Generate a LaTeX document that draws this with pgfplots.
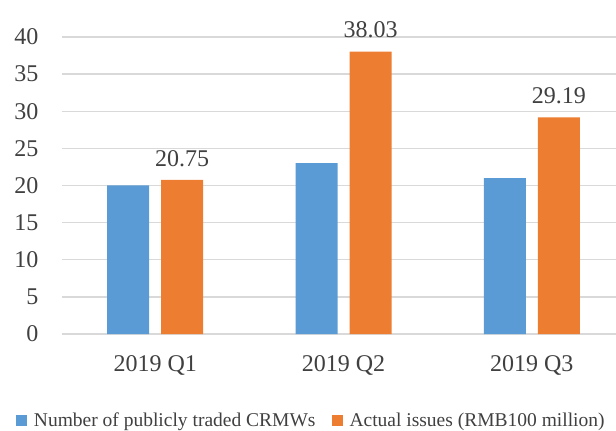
\documentclass[border=0pt]{standalone}
\usepackage{pgfplots}
\pgfplotsset{compat=1.18}
\usepackage{fontspec}
\setmainfont{Liberation Serif}
\definecolor{cblue}{HTML}{5B9BD5}
\definecolor{corange}{HTML}{ED7D31}
\definecolor{txt}{HTML}{404040}
\pgfplotsset{sq legend/.style={legend image code/.code={\path[##1] (0pt,-5.5pt) rectangle (11pt,5.5pt);}}}
\begin{document}
\begin{tikzpicture}
\useasboundingbox (-62pt,-97pt) rectangle (554pt,334pt);
\begin{axis}[
  at={(0pt,0pt)}, anchor=south west,
  scale only axis, width=554pt, height=297pt,
  ybar=12pt, bar width=42pt,
  xmin=-0.495, xmax=2.447, ymin=0, ymax=40,
  xtick={0,1,2}, xticklabels={2019 Q1,2019 Q2,2019 Q3},
  ytick={0,5,10,15,20,25,30,35,40},
  yticklabels={0,5,10,15,20,25,30,35,40},
  ymajorgrids, grid style={draw=black!15, line width=1.3pt},
  axis line style={draw=none},
  major tick length=0pt,
  tick label style={text=txt, font=\fontsize{24}{26}\selectfont},
  xticklabel style={yshift=-18pt},
  yticklabel style={xshift=-20pt},
  clip=false,
  legend columns=2,
  legend style={at={(0.45,-0.29)}, anchor=center, draw=none, fill=none,
    font=\fontsize{19.5}{21}\selectfont, text=txt,
    /tikz/every even column/.append style={column sep=14pt},
    /tikz/every odd column/.append style={column sep=5pt}},
  every node near coord/.append style={font=\fontsize{24}{26}\selectfont, text=txt, anchor=south, yshift=10pt},
]
\addplot[fill=cblue, draw=none, sq legend] coordinates {(0,20) (1,23) (2,21)};
\addplot[fill=corange, draw=none, sq legend, nodes near coords, point meta=explicit symbolic]
  coordinates {(0,20.75) [20.75] (1,38.03) [38.03] (2,29.19) [29.19]};
\legend{Number of publicly traded CRMWs, Actual issues (RMB100 million)}
\end{axis}
\end{tikzpicture}
\end{document}
